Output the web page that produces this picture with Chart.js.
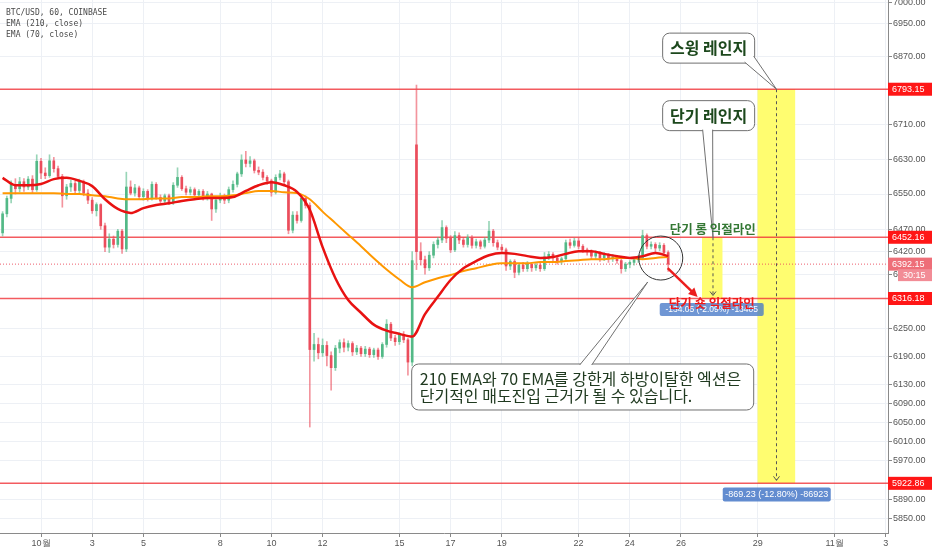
<!DOCTYPE html>
<html>
<head>
<meta charset="utf-8">
<script src="https://cdn.jsdelivr.net/npm/chart.js@4.4.1/dist/chart.umd.min.js"></script>
<style>
  html, body { margin: 0; padding: 0; background: #fff; }
</style>
</head>
<body>
<canvas id="grafico" width="932" height="550"></canvas>
<script>
//Ejes: x = días desde el 1 de octubre, y = precio (escala log)
const xTickDays = [0, 2, 4, 7, 9, 11, 14, 16, 18, 21, 23, 25, 28, 31, 33]
const xTickLabels = ['10월', '3', '5', '8', '10', '12', '15', '17', '19', '22', '24', '26', '29', '11월', '3']
const yTicks = [7000, 6950, 6870, 6710, 6630, 6550, 6470, 6420, 6370, 6250, 6190, 6130, 6090, 6050, 6010, 5970, 5890, 5850]

//Velas de 4h desde el 29 sep 12:00
const candleStart = -1.5
const candleStep = 4 / 24
const opens = [6462,6505,6540,6572,6562,6578,6566,6584,6560,6625,6598,6592,6626,6608,6590,6546,6566,6574,6558,6578,
  6552,6536,6512,6526,6478,6430,6448,6436,6466,6426,6566,6552,6564,6544,6556,6540,6572,6542,6534,6546,
  6530,6570,6588,6562,6554,6560,6548,6556,6542,6550,6516,6536,6544,6536,6560,6572,6596,6628,6620,6626,
  6604,6600,6588,6580,6554,6588,6596,6578,6468,6502,6490,6540,6524,6205,6216,6198,6214,6192,6166,6208,
  6220,6210,6218,6200,6208,6196,6206,6194,6204,6190,6216,6260,6230,6222,6238,6226,6178,6663,6420,6402,
  6384,6412,6436,6446,6474,6450,6424,6456,6446,6436,6452,6434,6442,6432,6446,6466,6440,6430,6424,6388,
  6398,6374,6390,6382,6392,6384,6390,6382,6408,6414,6406,6398,6404,6440,6434,6444,6432,6424,6420,6410,
  6416,6406,6412,6404,6408,6400,6382,6392,6396,6402,6406,6456,6432,6436,6428,6434,6418]
const highs = [6510,6545,6580,6585,6588,6585,6590,6592,6640,6632,6610,6640,6634,6614,6595,6572,6582,6580,6584,6582,
  6560,6542,6530,6528,6484,6460,6455,6470,6470,6600,6580,6572,6568,6562,6560,6578,6576,6548,6550,6550,
  6576,6610,6592,6568,6566,6564,6560,6560,6556,6552,6542,6552,6550,6566,6580,6600,6640,6648,6636,6630,
  6612,6606,6592,6584,6594,6604,6600,6582,6510,6510,6548,6546,6530,6240,6230,6228,6222,6200,6214,6226,
  6228,6224,6222,6214,6212,6212,6210,6208,6208,6220,6270,6264,6236,6242,6244,6230,6420,6803,6440,6410,
  6420,6442,6452,6490,6478,6456,6465,6462,6452,6458,6456,6448,6446,6452,6488,6470,6446,6436,6428,6402,
  6402,6394,6396,6398,6396,6396,6394,6418,6420,6418,6410,6408,6446,6448,6450,6450,6436,6428,6424,6422,
  6420,6418,6416,6414,6412,6404,6396,6400,6406,6412,6468,6460,6442,6440,6440,6438,6422]
const lows = [6455,6498,6530,6550,6555,6556,6560,6552,6556,6585,6585,6588,6600,6585,6520,6538,6556,6552,6550,6546,
  6528,6506,6500,6470,6420,6418,6428,6430,6416,6420,6548,6545,6538,6536,6534,6536,6538,6530,6528,6526,
  6526,6565,6558,6548,6548,6542,6540,6536,6536,6490,6508,6530,6528,6530,6554,6566,6590,6612,6612,6598,
  6594,6582,6572,6545,6550,6582,6572,6460,6462,6484,6486,6518,6040,6180,6185,6190,6170,6118,6160,6198,
  6200,6202,6192,6194,6190,6190,6188,6188,6184,6186,6210,6224,6214,6216,6220,6150,6170,6380,6390,6370,
  6378,6406,6428,6440,6440,6418,6420,6438,6430,6430,6428,6428,6426,6428,6440,6432,6424,6418,6378,6380,
  6362,6368,6376,6376,6376,6378,6376,6378,6402,6398,6392,6392,6400,6428,6430,6426,6418,6412,6404,6404,
  6398,6400,6396,6398,6394,6372,6376,6384,6390,6396,6402,6426,6426,6420,6422,6412,6376]
const closes = [6505,6540,6572,6562,6578,6566,6584,6560,6625,6598,6592,6626,6608,6590,6546,6566,6574,6558,6578,6552,
  6536,6512,6526,6478,6430,6448,6436,6466,6426,6566,6552,6564,6544,6556,6540,6572,6542,6534,6546,6530,
  6570,6588,6562,6554,6560,6548,6556,6542,6550,6516,6536,6544,6536,6560,6572,6596,6628,6620,6626,6604,
  6600,6588,6580,6554,6588,6596,6578,6468,6502,6490,6540,6524,6205,6216,6198,6214,6192,6166,6208,6220,
  6210,6218,6200,6208,6196,6206,6194,6204,6190,6216,6260,6230,6222,6238,6226,6178,6400,6420,6402,6384,
  6412,6436,6446,6474,6450,6424,6456,6446,6436,6452,6434,6442,6432,6446,6466,6440,6430,6424,6388,6398,
  6374,6390,6382,6392,6384,6390,6382,6408,6414,6406,6398,6404,6440,6434,6444,6432,6424,6420,6410,6416,
  6406,6412,6404,6408,6400,6382,6392,6396,6402,6406,6456,6432,6436,6428,6434,6418,6392.15]

//EMA leídas cada 12h
const emaStart = -1.5
const emaStep = 0.5
const ema70 = [6587,6570,6570,6573,6584,6587,6580,6568,6538,6516,6507,6518,6525,6529,6534,6538,6541,6541,6543,6557,
  6570,6577,6570,6555,6514,6430,6361,6313,6285,6259,6246,6239,6233,6282,6320,6357,6383,6399,6412,6417,
  6415,6410,6406,6408,6415,6421,6421,6415,6410,6406,6410,6417,6410]
const ema210 = [6552,6552,6552,6552,6552,6550,6550,6547,6545,6540,6538,6538,6540,6540,6543,6543,6545,6545,6547,6552,
  6557,6557,6554,6552,6538,6510,6484,6458,6432,6405,6380,6358,6341,6352,6361,6368,6377,6383,6390,6394,
  6394,6394,6397,6397,6399,6401,6403,6403,6406,6406,6403,6406,6408]

//Líneas horizontales y último precio
const levels = [6793.15, 6452.16, 6316.18, 5922.86]
const lastPrice = 6392.15

const upColor = 'rgb(83,185,135)'
const downColor = 'rgb(235,77,92)'
const candleX = closes.map((c, i) => candleStart + i * candleStep)
const emaX = ema70.map((v, i) => emaStart + i * emaStep)

//Anotaciones (coordenadas en días / precio)
const rangeBoxes = [
  { d0: 25.82, d1: 26.62, p0: 6316.18, p1: 6452.16, mid: 26.25 },
  { d0: 27.99, d1: 29.46, p0: 5922.86, p1: 6793.15, mid: 28.73 }
]

const pxFns = (chart) => {
  const xs = chart.scales.x, ys = chart.scales.y
  return [v => xs.getPixelForValue(v), v => ys.getPixelForValue(v)]
}

const callout = (c, x0, y0, w, h, tail) => {
  c.beginPath()
  c.roundRect(x0, y0, w, h, 7)
  c.fillStyle = '#fff'
  c.fill()
  c.strokeStyle = '#707070'
  c.lineWidth = 1
  c.stroke()
  c.beginPath()
  c.moveTo(tail[0][0], tail[0][1])
  c.lineTo(tail[2][0], tail[2][1])
  c.lineTo(tail[1][0], tail[1][1])
  c.closePath()
  c.fill()
  c.beginPath()
  c.moveTo(tail[0][0], tail[0][1])
  c.lineTo(tail[2][0], tail[2][1])
  c.lineTo(tail[1][0], tail[1][1])
  c.stroke()
}

const backLayer = {
  id: 'backLayer',
  beforeDatasetsDraw(chart) {
    const c = chart.ctx, a = chart.chartArea
    const [X, Y] = pxFns(chart)
    c.save()
    c.beginPath()
    c.rect(a.left, a.top, a.right - a.left, a.bottom - a.top)
    c.clip()
    c.fillStyle = 'rgb(255,253,112)'
    rangeBoxes.forEach(b => {
      c.fillRect(X(b.d0), Y(b.p1), X(b.d1) - X(b.d0), Y(b.p0) - Y(b.p1))
    })
    c.strokeStyle = 'rgba(240,50,55,0.8)'
    c.lineWidth = 1.5
    levels.forEach(v => {
      c.beginPath()
      c.moveTo(a.left, Y(v))
      c.lineTo(a.right, Y(v))
      c.stroke()
    })
    c.setLineDash([1, 2])
    c.lineWidth = 1
    c.strokeStyle = 'rgba(235,77,92,0.9)'
    c.beginPath()
    c.moveTo(a.left, Y(lastPrice))
    c.lineTo(a.right, Y(lastPrice))
    c.stroke()
    c.restore()
  }
}

const notes = {
  id: 'notes',
  afterDatasetsDraw(chart) {
    const c = chart.ctx
    const [X, Y] = pxFns(chart)
    c.save()
    //líneas punteadas de medición
    c.strokeStyle = '#555'
    c.lineWidth = 1
    rangeBoxes.forEach(b => {
      const x = X(b.mid), y1 = Y(b.p1), y2 = Y(b.p0) - 3
      c.setLineDash([3, 3])
      c.beginPath(); c.moveTo(x, y1); c.lineTo(x, y2); c.stroke()
      c.setLineDash([])
      c.beginPath(); c.moveTo(x - 3, y2 - 4); c.lineTo(x, y2); c.lineTo(x + 3, y2 - 4); c.stroke()
    })
    //círculo
    c.strokeStyle = '#333'
    c.beginPath()
    c.arc(X(24.21), Y(6405.7), 22, 0, Math.PI * 2)
    c.stroke()
    //flecha roja
    const ax1 = X(24.48), ay1 = Y(6383.5), ax2 = X(25.65), ay2 = Y(6319.5)
    const ang = Math.atan2(ay2 - ay1, ax2 - ax1)
    c.strokeStyle = 'rgb(235,30,30)'
    c.fillStyle = 'rgb(235,30,30)'
    c.lineWidth = 2.5
    c.beginPath(); c.moveTo(ax1, ay1); c.lineTo(ax2 - 6 * Math.cos(ang), ay2 - 6 * Math.sin(ang)); c.stroke()
    c.beginPath()
    c.moveTo(ax2, ay2)
    c.lineTo(ax2 - 9 * Math.cos(ang) + 4.5 * Math.sin(ang), ay2 - 9 * Math.sin(ang) - 4.5 * Math.cos(ang))
    c.lineTo(ax2 - 9 * Math.cos(ang) - 4.5 * Math.sin(ang), ay2 - 9 * Math.sin(ang) + 4.5 * Math.cos(ang))
    c.closePath(); c.fill()

    //cajas de texto
    c.textBaseline = 'middle'
    let cx = X(26.08), cy = Y(6891)
    callout(c, cx - 46, cy - 15, 92, 30, [[cx + 36, cy + 14], [cx + 45, cy + 8], [X(28.73), Y(6793.15)]])
    c.fillStyle = 'rgb(28,72,28)'
    c.font = 'bold 16px "Noto Sans CJK KR"'
    c.textAlign = 'center'
    c.fillText('스윙 레인지', cx, cy)

    cx = X(26.08); cy = Y(6731)
    callout(c, cx - 46, cy - 15, 92, 30, [[cx - 6, cy + 14], [cx + 4, cy + 14], [X(26.25), Y(6452.16)]])
    c.fillStyle = 'rgb(28,72,28)'
    c.fillText('단기 레인지', cx, cy)

    cx = X(21.16); cy = Y(6124.7)
    callout(c, cx - 171, cy - 23, 342, 46, [[cx - 3, cy - 22], [cx + 9, cy - 22], [X(23.70), Y(6352.6)]])
    c.fillStyle = 'rgb(32,58,32)'
    c.font = '16px "Noto Sans CJK KR"'
    c.textAlign = 'left'
    c.fillText('210 EMA와 70 EMA를 강한게 하방이탈한 엑션은', cx - 163, cy - 8)
    c.fillText('단기적인 매도진입 근거가 될 수 있습니다.', cx - 163, cy + 9)

    //cajas azules de medición
    c.textAlign = 'center'
    c.font = '8.5px "Liberation Sans"'
    cx = X(26.20); cy = Y(6292)
    c.fillStyle = 'rgba(70,120,200,0.78)'
    c.beginPath(); c.roundRect(cx - 52, cy - 6.5, 104, 13, 2); c.fill()
    c.fillStyle = '#fff'
    c.fillText('-134.05 (-2.09%) -13405', cx, cy + 0.5)
    cx = X(28.74); cy = Y(5900)
    c.fillStyle = 'rgba(70,120,200,0.85)'
    c.beginPath(); c.roundRect(cx - 54, cy - 7, 108, 14, 2); c.fill()
    c.fillStyle = '#fff'
    c.font = '9px "Liberation Sans"'
    c.fillText('-869.23 (-12.80%) -86923', cx, cy + 0.5)

    //etiquetas de líneas
    c.font = 'bold 12.5px "Noto Sans CJK KR"'
    c.fillStyle = 'rgb(52,120,52)'
    c.fillText('단기 롱 익절라인', X(26.24), Y(6470.8))
    c.fillStyle = 'rgb(240,25,25)'
    c.fillText('단기 숏 익절라인', X(26.20), Y(6306.2))
    c.restore()
  }
}

const axisTags = {
  id: 'axisTags',
  afterDraw(chart) {
    const c = chart.ctx, a = chart.chartArea
    const [X, Y] = pxFns(chart)
    c.save()
    c.textBaseline = 'middle'
    c.textAlign = 'left'
    c.font = '9px "Liberation Sans"'
    levels.forEach(v => {
      c.fillStyle = 'rgb(255,22,22)'
      c.fillRect(a.right, Y(v) - 6.5, 44, 13)
      c.fillStyle = '#fff'
      c.fillText(v.toFixed(2), a.right + 4, Y(v) + 0.5)
    })
    c.fillStyle = 'rgb(238,110,120)'
    c.fillRect(a.right, Y(lastPrice) - 6.5, 44, 13)
    c.fillStyle = 'rgb(242,140,150)'
    c.fillRect(a.right + 10, Y(lastPrice) + 5, 34, 12)
    c.fillStyle = '#fff'
    c.fillText(lastPrice.toFixed(2), a.right + 4, Y(lastPrice) + 0.5)
    c.fillText('30:15', a.right + 15, Y(lastPrice) + 11.5)
    //leyenda
    c.fillStyle = '#4a4a4a'
    c.font = '8px "DejaVu Sans Mono"'
    c.fillText('BTC/USD, 60, COINBASE', 6, 13)
    c.fillText('EMA (210, close)', 6, 24)
    c.fillText('EMA (70, close)', 6, 35)
    c.restore()
  }
}

const ctx = document.getElementById('grafico').getContext('2d')
const chartInstance = new Chart(ctx, {
  type: 'bar',
  data: {
    datasets: [{
      type: 'line',
      label: 'EMA (70, close)',
      data: ema70.map((v, i) => ({ x: emaX[i], y: v })),
      borderColor: 'rgb(232,18,18)',
      borderWidth: 2.5,
      pointRadius: 0,
      cubicInterpolationMode: 'monotone',
      order: 0
    }, {
      type: 'line',
      label: 'EMA (210, close)',
      data: ema210.map((v, i) => ({ x: emaX[i], y: v })),
      borderColor: 'rgb(255,152,0)',
      borderWidth: 2,
      pointRadius: 0,
      cubicInterpolationMode: 'monotone',
      order: 1
    }, {
      label: 'body',
      data: candleX.map((x, i) => ({ x: x, y: [opens[i], closes[i]] })),
      backgroundColor: closes.map((c, i) => c >= opens[i] ? upColor : downColor),
      barThickness: 2,
      minBarLength: 1,
      grouped: false,
      order: 2
    }, {
      label: 'wick',
      data: candleX.map((x, i) => ({ x: x, y: [lows[i], highs[i]] })),
      backgroundColor: closes.map((c, i) => c >= opens[i] ? 'rgba(83,185,135,0.6)' : 'rgba(235,77,92,0.6)'),
      barThickness: 1,
      grouped: false,
      order: 3
    }]
  },
  options: {
    responsive: false,
    animation: false,
    devicePixelRatio: 1,
    layout: { padding: 0 },
    plugins: { legend: { display: false }, tooltip: { enabled: false } },
    scales: {
      x: {
        type: 'linear',
        min: -1.6016,
        max: 33.086,
        bounds: 'data',
        offset: false,
        grid: { offset: false, color: '#edf0f5', tickColor: '#888', tickLength: 4 },
        border: { color: '#8a8a8a', width: 1 },
        ticks: {
          autoSkip: false, maxRotation: 0, padding: 1, color: '#555',
          font: { family: 'Liberation Sans', size: 9 },
          callback: (v, i) => xTickLabels[i]
        },
        afterBuildTicks: s => { s.ticks = xTickDays.map(v => ({ value: v })) },
        afterFit: s => { s.height = 17; s.paddingLeft = 0; s.paddingRight = 0 }
      },
      y: {
        type: 'logarithmic',
        position: 'right',
        min: 5821.4,
        max: 7007.3,
        bounds: 'data',
        grid: { color: '#edf0f5', tickColor: '#888', tickLength: 4 },
        border: { color: '#8a8a8a', width: 1 },
        ticks: {
          autoSkip: false, padding: 1, color: '#555',
          font: { family: 'Liberation Sans', size: 9 },
          callback: v => Number(v).toFixed(2)
        },
        afterBuildTicks: s => { s.ticks = yTicks.map(v => ({ value: v })) },
        afterFit: s => { s.width = 44; s.paddingTop = 0; s.paddingBottom = 0 }
      }
    }
  },
  plugins: [backLayer, notes, axisTags]
})
</script>
</body>
</html>
